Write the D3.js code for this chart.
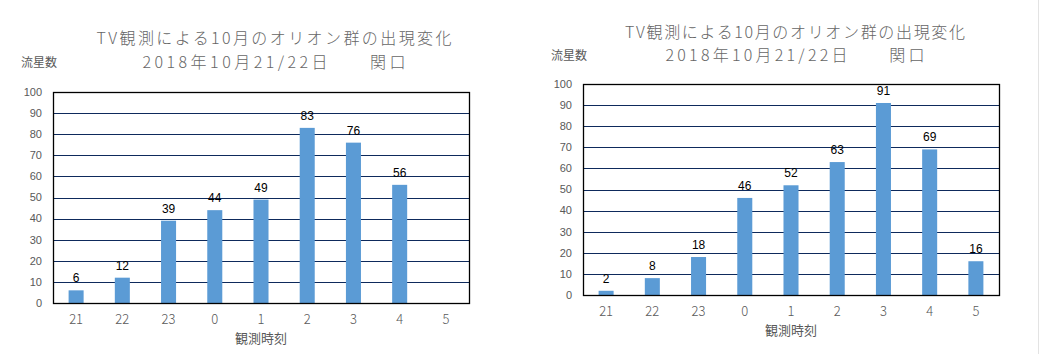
<!DOCTYPE html>
<html>
<head>
<meta charset="utf-8">
<script src="https://cdn.jsdelivr.net/npm/d3@7"></script>
<style>
  body { margin: 0; background: #fff; }
  svg { display: block; }
</style>
</head>
<body>
<script>
const width = 1049;
const height = 354;

// data
const hours = ["21", "22", "23", "0", "1", "2", "3", "4", "5"];
const counts21 = [6, 12, 39, 44, 49, 83, 76, 56, null];
const counts22 = [2, 8, 18, 46, 52, 63, 91, 69, 16];
const yTicks = [0, 10, 20, 30, 40, 50, 60, 70, 80, 90, 100];
const titleLine1 = "TV観測による10月のオリオン群の出現変化";
const titleLine2 = "2018年10月21/22日　　関口";

const gray = "#595959";
const jp = "'Noto Sans CJK JP', 'Noto Sans', sans-serif";

const svg = d3.select("body").append("svg")
    .attr("width", width)
    .attr("height", height);

// faint page edge on the right
svg.append("line")
    .attr("x1", 1038.5).attr("x2", 1038.5)
    .attr("y1", 0).attr("y2", height)
    .style("stroke", "#e3e3e3");

function drawChart(values, box) {
    const g = svg.append("g");

    const x = d3.scaleBand()
        .domain(hours)
        .range([box.x0, box.x1])
        .paddingInner(0.675)
        .paddingOuter(0.3375);

    const y = d3.scaleLinear()
        .domain([0, 100])
        .range([box.y1, box.y0]);

    // titles
    g.append("text")
        .attr("x", box.tx).attr("y", box.t1)
        .attr("text-anchor", "middle")
        .attr("textLength", box.w1).attr("lengthAdjust", "spacing")
        .style("font-family", jp).style("font-size", "16px").style("font-weight", 300)
        .style("fill", "#666")
        .text(titleLine1);
    g.append("text")
        .attr("x", box.tx).attr("y", box.t2)
        .attr("text-anchor", "middle")
        .attr("textLength", box.w2).attr("lengthAdjust", "spacing")
        .style("font-family", jp).style("font-size", "16px").style("font-weight", 300)
        .style("fill", "#666")
        .text(titleLine2);
    g.append("text")
        .attr("x", box.ux).attr("y", box.t2 - 1)
        .style("font-family", jp).style("font-size", "12px")
        .style("fill", gray)
        .text("流星数");

    // gridlines
    g.append("g")
        .selectAll("line")
        .data(yTicks.filter(d => d > 0 && d < 100))
        .enter().append("line")
        .attr("x1", box.x0).attr("x2", box.x1)
        .attr("y1", d => Math.round(y(d)) + 0.5)
        .attr("y2", d => Math.round(y(d)) + 0.5)
        .style("stroke", "#0e2a5c")
        .style("stroke-width", 1.2);

    // bars
    g.append("g")
        .selectAll("rect")
        .data(values.map((v, i) => ({ h: hours[i], v: v })).filter(d => d.v != null))
        .enter().append("rect")
        .attr("x", d => x(d.h))
        .attr("y", d => y(d.v))
        .attr("width", x.bandwidth())
        .attr("height", d => y(0) - y(d.v))
        .style("fill", "#5b9bd5");

    // frame
    g.append("rect")
        .attr("x", box.x0 + 0.5).attr("y", Math.round(box.y0) + 0.5)
        .attr("width", box.x1 - box.x0).attr("height", box.y1 - box.y0)
        .style("fill", "none")
        .style("stroke", "#000")
        .style("stroke-width", 1.3);

    // data labels
    g.append("g")
        .selectAll("text")
        .data(values.map((v, i) => ({ h: hours[i], v: v })).filter(d => d.v != null))
        .enter().append("text")
        .attr("x", d => x(d.h) + x.bandwidth() / 2)
        .attr("y", d => y(d.v) - 8)
        .attr("text-anchor", "middle")
        .style("font-family", "'Liberation Sans', Arial, sans-serif")
        .style("font-size", "12px")
        .style("fill", "#000")
        .text(d => d.v);

    // y axis labels
    g.append("g")
        .selectAll("text")
        .data(yTicks)
        .enter().append("text")
        .attr("x", box.x0 - 11)
        .attr("y", d => y(d))
        .attr("dy", "0.35em")
        .attr("text-anchor", "end")
        .style("font-family", "'Liberation Sans', Arial, sans-serif")
        .style("font-size", "11px")
        .style("fill", gray)
        .text(d => d);

    // x axis labels
    g.append("g")
        .selectAll("text")
        .data(hours)
        .enter().append("text")
        .attr("x", d => x(d) + x.bandwidth() / 2)
        .attr("y", box.y1 + 16)
        .attr("dy", "0.35em")
        .attr("text-anchor", "middle")
        .style("font-family", jp).style("font-size", "13px").style("font-weight", 300)
        .style("fill", gray)
        .text(d => d);

    g.append("text")
        .attr("x", box.xt).attr("y", box.y1 + 35)
        .attr("dy", "0.35em")
        .attr("text-anchor", "middle")
        .style("font-family", jp).style("font-size", "13px")
        .style("fill", gray)
        .text("観測時刻");
}

drawChart(counts21, { x0: 53, x1: 469, y0: 92, y1: 303, tx: 274, t1: 44, t2: 68, w1: 355, w2: 263, ux: 21, xt: 261 });
drawChart(counts22, { x0: 583, x1: 999, y0: 84, y1: 295, tx: 795, t1: 38, t2: 61, w1: 340, w2: 259, ux: 551, xt: 791 });
</script>
</body>
</html>
